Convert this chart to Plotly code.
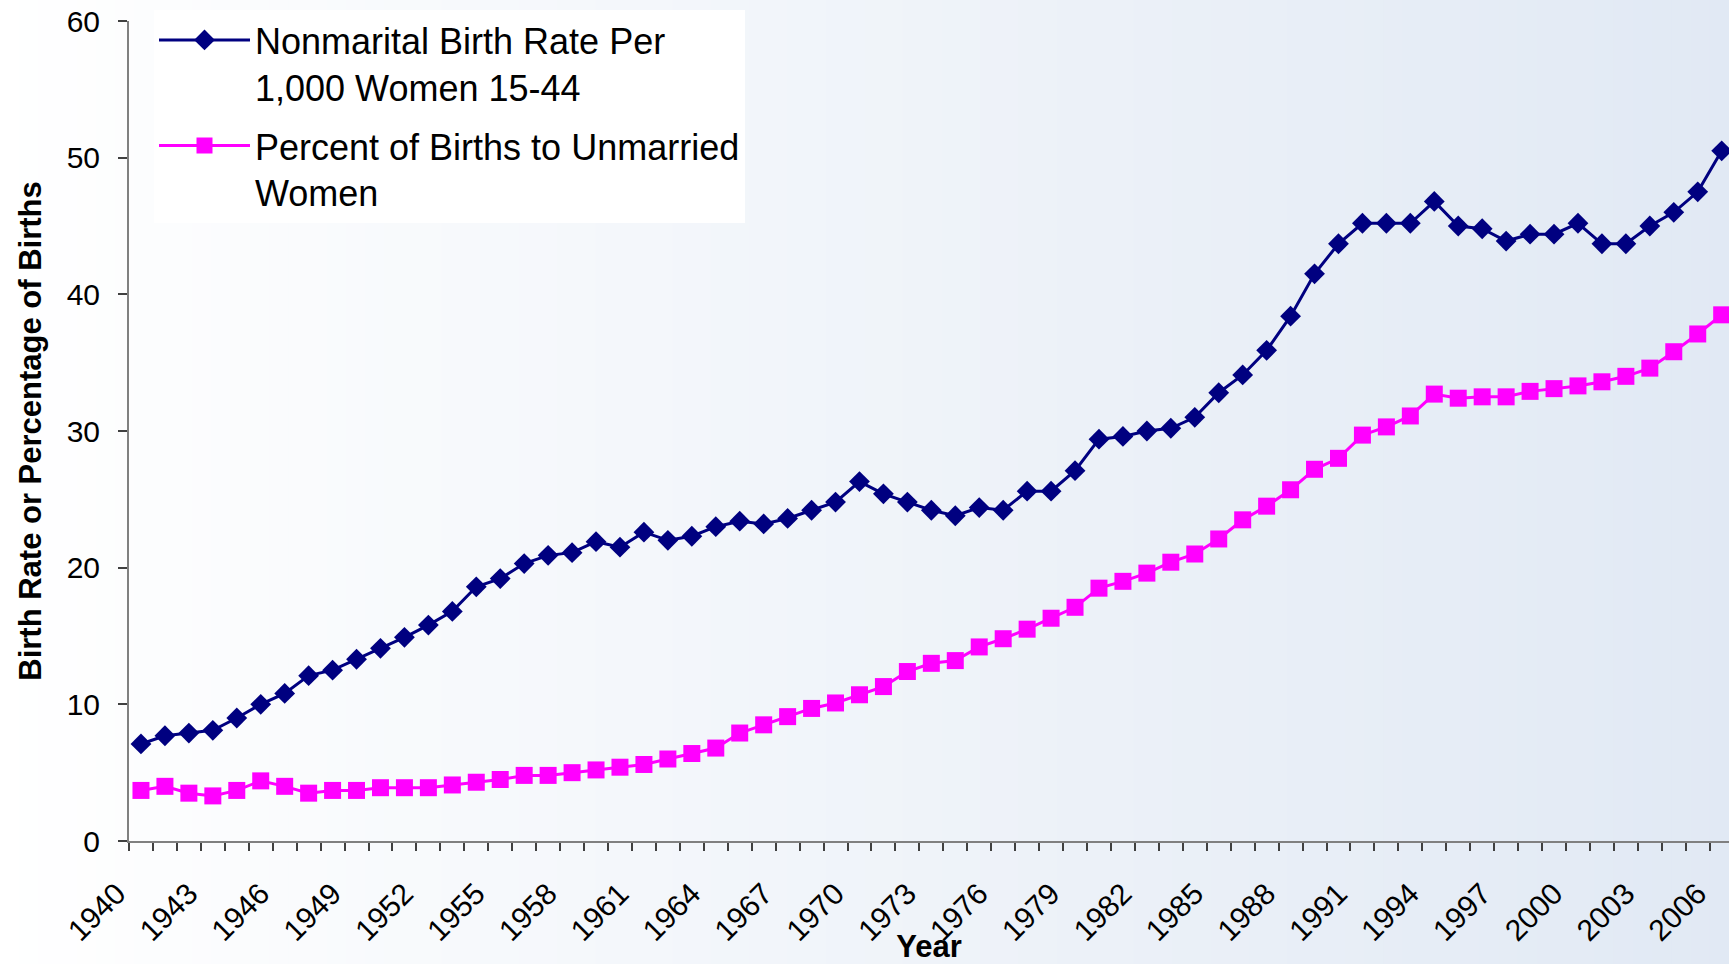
import plotly.graph_objects as go

years = list(range(1940, 2007))

nonmarital_rate = [
    7.1, 7.7, 7.9, 8.1, 9.0, 10.0, 10.8, 12.1, 12.5, 13.3,
    14.1, 14.9, 15.8, 16.8, 18.6, 19.2, 20.3, 20.9, 21.1, 21.9,
    21.5, 22.6, 22.0, 22.3, 23.0, 23.4, 23.2, 23.6, 24.2, 24.8,
    26.3, 25.4, 24.8, 24.2, 23.8, 24.4, 24.2, 25.6, 25.6, 27.1,
    29.4, 29.6, 30.0, 30.2, 31.0, 32.8, 34.1, 35.9, 38.4, 41.5,
    43.7, 45.2, 45.2, 45.2, 46.8, 45.0, 44.8, 43.9, 44.4, 44.4,
    45.2, 43.7, 43.7, 45.0, 46.0, 47.5, 50.5,
]

pct_unmarried = [
    3.7, 4.0, 3.5, 3.3, 3.7, 4.4, 4.0, 3.5, 3.7, 3.7,
    3.9, 3.9, 3.9, 4.1, 4.3, 4.5, 4.8, 4.8, 5.0, 5.2,
    5.4, 5.6, 6.0, 6.4, 6.8, 7.9, 8.5, 9.1, 9.7, 10.1,
    10.7, 11.3, 12.4, 13.0, 13.2, 14.2, 14.8, 15.5, 16.3, 17.1,
    18.5, 19.0, 19.6, 20.4, 21.0, 22.1, 23.5, 24.5, 25.7, 27.2,
    28.0, 29.7, 30.3, 31.1, 32.7, 32.4, 32.5, 32.5, 32.9, 33.1,
    33.3, 33.6, 34.0, 34.6, 35.8, 37.1, 38.5,
]

tick_years = list(range(1940, 2007, 3))
tick_labels = [str(y) for y in tick_years]

series_names = [
    "Nonmarital Birth Rate Per<br>1,000 Women 15-44",
    "Percent of Births to Unmarried<br>Women",
]

FONT = "Arial, 'Liberation Sans', sans-serif"
W, H = 1729, 964
ML, MR, MT, MB = 129, 0, 21, 123
PW, PH = W - ML - MR, H - MT - MB

fig = go.Figure()
fig.add_trace(go.Scatter(
    x=years, y=nonmarital_rate, name=series_names[0], mode="lines+markers",
    legendgroup="a",
    line=dict(color="#000080", width=3),
    marker=dict(symbol="diamond", size=16, color="#000080"),
))
fig.add_trace(go.Scatter(
    x=years, y=pct_unmarried, name=series_names[1], mode="lines+markers",
    legendgroup="b",
    line=dict(color="#FF00FF", width=3),
    marker=dict(symbol="square", size=17, color="#FF00FF"),
))

# horizontal background gradient (white -> light blue)
shapes = []
n = 90
x_left = -ML / PW
x_right = 1.0 + MR / PW
y_bot = -MB / PH
y_top = 1.0 + MT / PH
c0 = (255, 255, 255)
c1 = (225, 233, 244)
for i in range(n):
    t = (i + 0.5) / n
    col = tuple(round(c0[k] + (c1[k] - c0[k]) * t) for k in range(3))
    xa = x_left + (x_right - x_left) * i / n
    xb = x_left + (x_right - x_left) * (i + 1) / n + 0.001
    shapes.append(dict(
        type="rect", xref="paper", yref="paper", x0=xa, x1=xb, y0=y_bot, y1=y_top,
        fillcolor="rgb(%d,%d,%d)" % col, line=dict(width=0), layer="below",
    ))

x_end = 1939.5 + PW / 23.95

fig.update_layout(
    width=W, height=H,
    margin=dict(l=ML, r=MR, t=MT, b=MB, autoexpand=False),
    paper_bgcolor="white",
    plot_bgcolor="rgba(0,0,0,0)",
    font=dict(family=FONT, color="black"),
    shapes=shapes,
    showlegend=True,
    legend=dict(
        x=25 / PW, y=1 + 11 / PH, xanchor="left", yanchor="top",
        bgcolor="white", borderwidth=0,
        font=dict(family=FONT, size=36, color="black"),
        valign="top", itemwidth=91,
        tracegroupgap=9,
    ),
    xaxis=dict(
        range=[1939.5, x_end], automargin=False,
        tickmode="array", tickvals=tick_years, ticktext=tick_labels,
        tickangle=-45, ticks="",
        tickfont=dict(family=FONT, size=30, color="black"),
        showline=True, linecolor="#808080", linewidth=2,
        showgrid=False, zeroline=False,
        minor=dict(tick0=1939.5, dtick=1, ticks="outside", ticklen=8,
                   tickcolor="#404040", tickwidth=1.5, showgrid=False),
        title=dict(text="<b>Year</b>", font=dict(family=FONT, size=31, color="black"),
                   standoff=4),
        ticklabelstandoff=21,
        ticklabelshift=-24,
        ticklabeloverflow="allow",
    ),
    yaxis=dict(
        range=[0, 60], dtick=10, tick0=0, automargin=False,
        ticks="outside", ticklen=9, tickcolor="#404040", tickwidth=1.5,
        tickfont=dict(family=FONT, size=30, color="black"),
        showline=True, linecolor="#808080", linewidth=2,
        showgrid=False, zeroline=False,
        ticklabelstandoff=12,
        ticklabeloverflow="allow",
        title=dict(text="<b>Birth Rate or Percentage of Births</b>",
                   font=dict(family=FONT, size=31, color="black"), standoff=16),
    ),
)

# remove the browser's default 8px body margin so the figure fills the window
fig.write_html(
    "out.html",
    config={"displayModeBar": False},
    post_script="document.body.style.margin='0';document.body.style.overflow='hidden';",
)
